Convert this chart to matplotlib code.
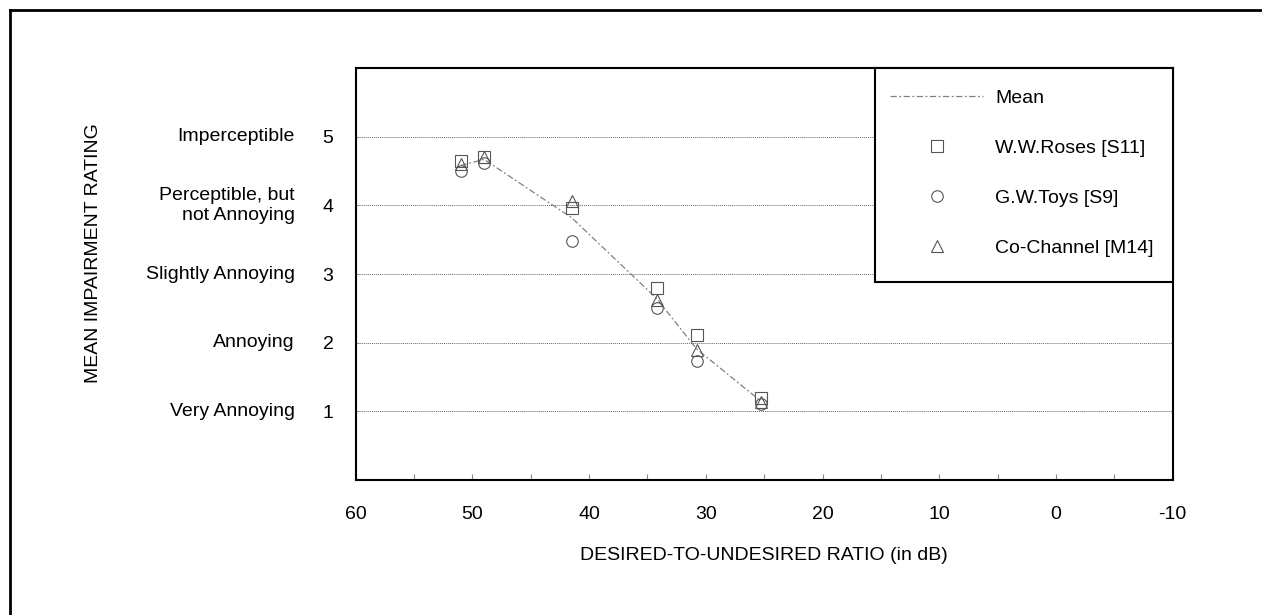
import matplotlib
matplotlib.use("Agg")
import matplotlib.pyplot as plt
from matplotlib.lines import Line2D
from matplotlib.patches import Rectangle

# ================= data =================
du_ratio = [51.0, 49.0, 41.5, 34.2, 30.8, 25.3]          # dB
ww_roses = [4.65, 4.70, 3.96, 2.80, 2.11, 1.19]          # W.W.Roses [S11]
gw_toys = [4.50, 4.62, 3.48, 2.51, 1.74, 1.11]           # G.W.Toys [S9]
co_channel = [4.60, 4.70, 4.07, 2.62, 1.89, 1.14]        # Co-Channel [M14]
mean_rating = [4.58, 4.67, 3.82, 2.64, 1.91, 1.15]       # Mean

rating_levels = [1, 2, 3, 4, 5]
rating_names = ["Very Annoying", "Annoying", "Slightly Annoying",
                "Perceptible, but\nnot Annoying", "Imperceptible"]
x_major = [60, 50, 40, 30, 20, 10, 0, -10]
x_minor = [55, 45, 35, 25, 15, 5, -5]

plt.rcParams['font.family'] = ['Liberation Sans', 'DejaVu Sans']

W, H = 1262, 615
fig = plt.figure(figsize=(W / 100, H / 100), dpi=100)
ax = fig.add_axes([355.7 / W, 1 - 480 / H, (1172.7 - 355.7) / W, (480 - 68) / H])

# outer frame (only left and top edges are visible in the crop)
fig.add_artist(Line2D([10.3 / W, 10.3 / W], [0, 1 - 10.3 / H], transform=fig.transFigure,
                      color='black', lw=2.0, solid_capstyle='projecting'))
fig.add_artist(Line2D([10.3 / W, 1], [1 - 10.3 / H, 1 - 10.3 / H], transform=fig.transFigure,
                      color='black', lw=2.0, solid_capstyle='projecting'))

grey = '#555555'
mk = dict(linestyle='none', markersize=8.3, markerfacecolor='none',
          markeredgecolor=grey, markeredgewidth=0.8, zorder=4)

ax.plot(du_ratio, mean_rating, color='#808080', lw=0.9, dashes=(5, 2, 1.5, 2),
        label='Mean', zorder=3)
ax.plot(du_ratio, ww_roses, marker='s', label='W.W.Roses [S11]', **mk)
ax.plot(du_ratio, gw_toys, marker='o', label='G.W.Toys [S9]', **mk)
ax.plot(du_ratio, co_channel, marker='^', label='Co-Channel [M14]', **mk)

ax.set_xlim(60, -10)
ax.set_ylim(0, 6)
ax.set_xticks(x_major)
ax.set_xticks(x_minor, minor=True)
ax.set_xticklabels([str(v) for v in x_major])
ax.set_yticks(rating_levels)
ax.set_yticklabels([str(v) for v in rating_levels])
ax.tick_params(axis='x', which='both', direction='in', length=4, width=0.8,
               color='#888888', pad=19, labelsize=14)
ax.tick_params(axis='y', direction='in', length=2, width=0.6, color='#888888',
               pad=16, labelsize=14)

for sp in ax.spines.values():
    sp.set_linewidth(1.5)

ax.grid(True, axis='y', color='#666666', linestyle=(0, (1, 1)), linewidth=0.7)
ax.set_axisbelow(True)

for lvl, name in zip(rating_levels, rating_names):
    ax.annotate(name, xy=(0, lvl), xycoords=('axes fraction', 'data'),
                xytext=(-43.7, 0), textcoords='offset points',
                ha='right', va='center', multialignment='right', fontsize=14)

fig.text(93 / W, 1 - 253 / H, "MEAN IMPAIRMENT RATING", rotation=90,
         ha='center', va='center', fontsize=14)
fig.text(764 / W, 1 - 555 / H, "DESIRED-TO-UNDESIRED RATIO (in dB)",
         ha='center', va='center', fontsize=14)

# legend box drawn by hand so it sits flush in the top right corner
ax.add_patch(Rectangle((0.6356, 0.4806), 1 - 0.6356, 1 - 0.4806, transform=ax.transAxes,
                       facecolor='white', edgecolor='black', lw=1.5, zorder=5,
                       clip_on=False))
leg = ax.legend(loc='upper left', bbox_to_anchor=(0.654, 0.948), frameon=False,
                borderpad=0, borderaxespad=0, handlelength=4.8, handletextpad=0.6,
                labelspacing=1.66, fontsize=14, numpoints=1)
leg.set_zorder(6)

fig.savefig("out.png", dpi=100)
